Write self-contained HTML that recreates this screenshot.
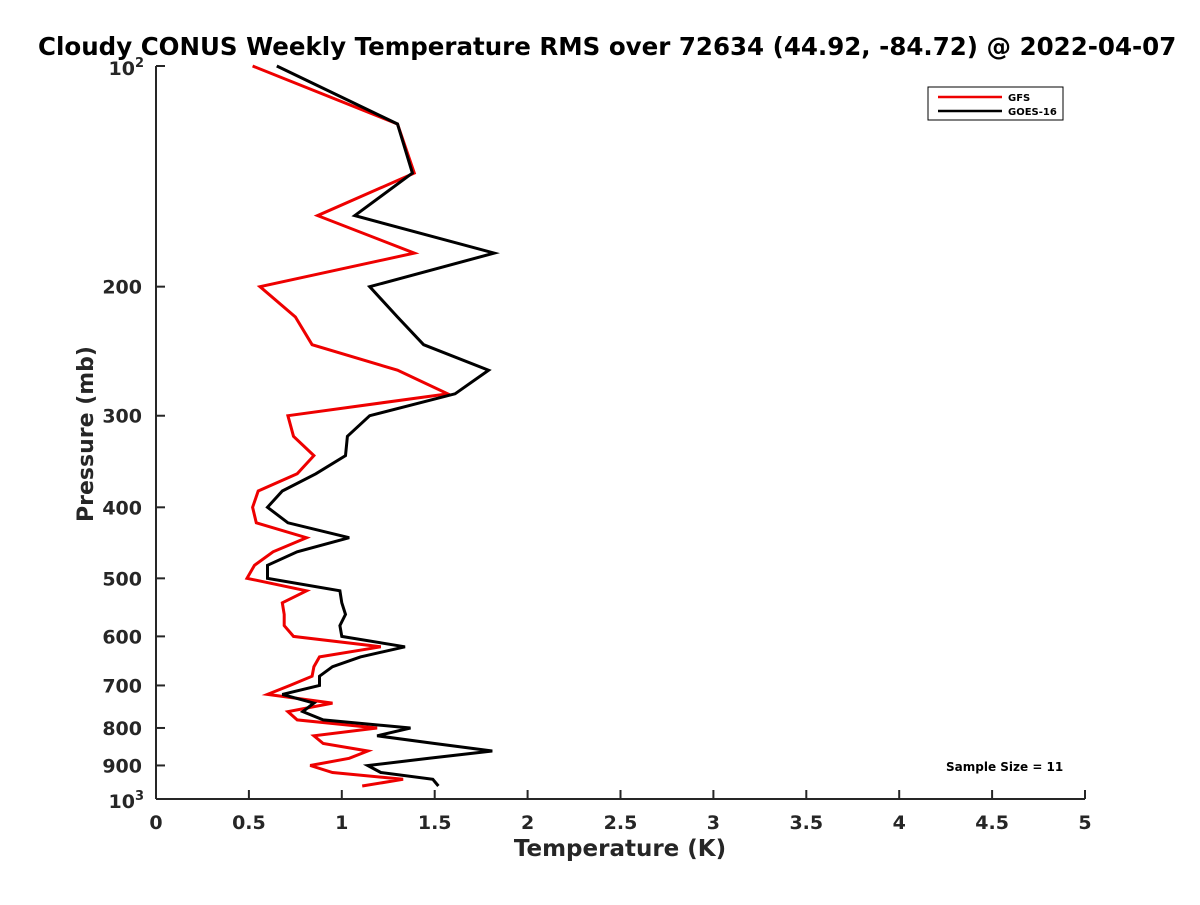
<!DOCTYPE html>
<html><head><meta charset="utf-8"><style>
html,body{margin:0;padding:0;background:#fff;overflow:hidden;}
svg text{font-family:"DejaVu Sans","Liberation Sans",sans-serif;font-weight:bold;fill:#262626;}
</style></head><body>
<svg id="chart" width="1200" height="900" xmlns="http://www.w3.org/2000/svg">
<rect width="1200" height="900" fill="#fff"/>
<text x="38" y="55" font-size="24.5" style="fill:#000">Cloudy CONUS Weekly Temperature RMS over 72634 (44.92, -84.72) @ 2022-04-07</text>
<g id="axes"></g>
<g id="series"></g>
<g>
<rect x="928" y="87" width="135" height="33" fill="#fff" stroke="#000" stroke-width="1"/>
<line x1="938" y1="97" x2="1002" y2="97" stroke="#e00" stroke-width="2.5"/>
<text x="1008" y="101" font-size="10" style="fill:#000">GFS</text>
<line x1="938" y1="111" x2="1002" y2="111" stroke="#000" stroke-width="2.5"/>
<text x="1008" y="115" font-size="10" style="fill:#000">GOES-16</text>
</g>
<text x="946" y="771" font-size="12" style="fill:#000">Sample Size = 11</text>
<text x="620" y="856" font-size="23" text-anchor="middle">Temperature (K)</text>
<text transform="translate(93,434) rotate(-90)" font-size="22" text-anchor="middle">Pressure (mb)</text>
</svg>
<script>
const pressures=[100,120,140,160,180,200,220,240,260,280,300,320,340,360,380,400,420,440,460,480,500,520,540,560,580,600,620,640,660,680,700,720,740,760,780,800,820,840,860,880,900,920,940,960];
const gfs=[0.52,1.30,1.39,0.87,1.39,0.56,0.75,0.84,1.30,1.57,0.71,0.74,0.85,0.76,0.55,0.52,0.54,0.81,0.63,0.53,0.49,0.81,0.68,0.69,0.69,0.74,1.21,0.88,0.85,0.84,0.72,0.60,0.95,0.71,0.76,1.19,0.85,0.90,1.14,1.04,0.83,0.95,1.33,1.11];
const goes=[0.65,1.30,1.38,1.07,1.82,1.15,1.30,1.44,1.79,1.61,1.15,1.03,1.02,0.86,0.68,0.60,0.71,1.04,0.76,0.60,0.60,0.99,1.00,1.02,0.99,1.00,1.34,1.10,0.95,0.88,0.88,0.68,0.85,0.79,0.90,1.37,1.19,1.50,1.81,1.47,1.14,1.21,1.49,1.52];
const xTicks=[0,0.5,1,1.5,2,2.5,3,3.5,4,4.5,5];
const xTickLabels=["0","0.5","1","1.5","2","2.5","3","3.5","4","4.5","5"];
const yTicks=[200,300,400,500,600,700,800,900];
const X0=156,X1=1085,Y0=66,Y1=799;
function xs(v){return X0+(v-0)/(5-0)*(X1-X0);}
function ys(p){return Y0+(Math.log10(p)-2)*(Y1-Y0);}
const NS="http://www.w3.org/2000/svg";
const axes=document.getElementById('axes'),ser=document.getElementById('series');
function mk(tag,attrs,parent){const e=document.createElementNS(NS,tag);for(const k in attrs)e.setAttribute(k,attrs[k]);parent.appendChild(e);return e;}
const xa=mk('line',{x1:X0,y1:Y1,x2:X1,y2:Y1,stroke:'#262626','stroke-width':2},axes);


const ya=mk('line',{x1:X0,y1:Y0,x2:X0,y2:Y1,stroke:'#262626','stroke-width':2},axes);


xTicks.forEach((v,i)=>{const x=xs(v);
mk('line',{x1:x,y1:Y1,x2:x,y2:Y1-9,stroke:'#262626','stroke-width':2},axes);
const t=mk('text',{x:x,y:Y1+30,'font-size':19,'text-anchor':'middle'},axes);t.textContent=xTickLabels[i];

});
[100,1000].concat(yTicks).forEach(p=>{const y=ys(p);mk('line',{x1:X0,y1:y,x2:X0+9,y2:y,stroke:'#262626','stroke-width':2},axes);});
yTicks.forEach(p=>{const t=mk('text',{x:X0-14,y:ys(p)+7,'font-size':19,'text-anchor':'end'},axes);t.textContent=String(p);

});
[[100,'2'],[1000,'3']].forEach(([p,e])=>{const t=mk('text',{x:X0-12,y:ys(p)+9,'font-size':19,'text-anchor':'end'},axes);
t.innerHTML='10<tspan dy="-8" font-size="13">'+e+'</tspan>';

});
function line(vals,color,name){const pts=vals.map((v,i)=>xs(v).toFixed(1)+','+ys(pressures[i]).toFixed(1)).join(' ');
const pl=mk('polyline',{points:pts,fill:'none',stroke:color,'stroke-width':3,'stroke-linejoin':'miter'},ser);

}
line(gfs,'#e00','gfs-line');
line(goes,'#000','goes16-line');
</script>
</body></html>
